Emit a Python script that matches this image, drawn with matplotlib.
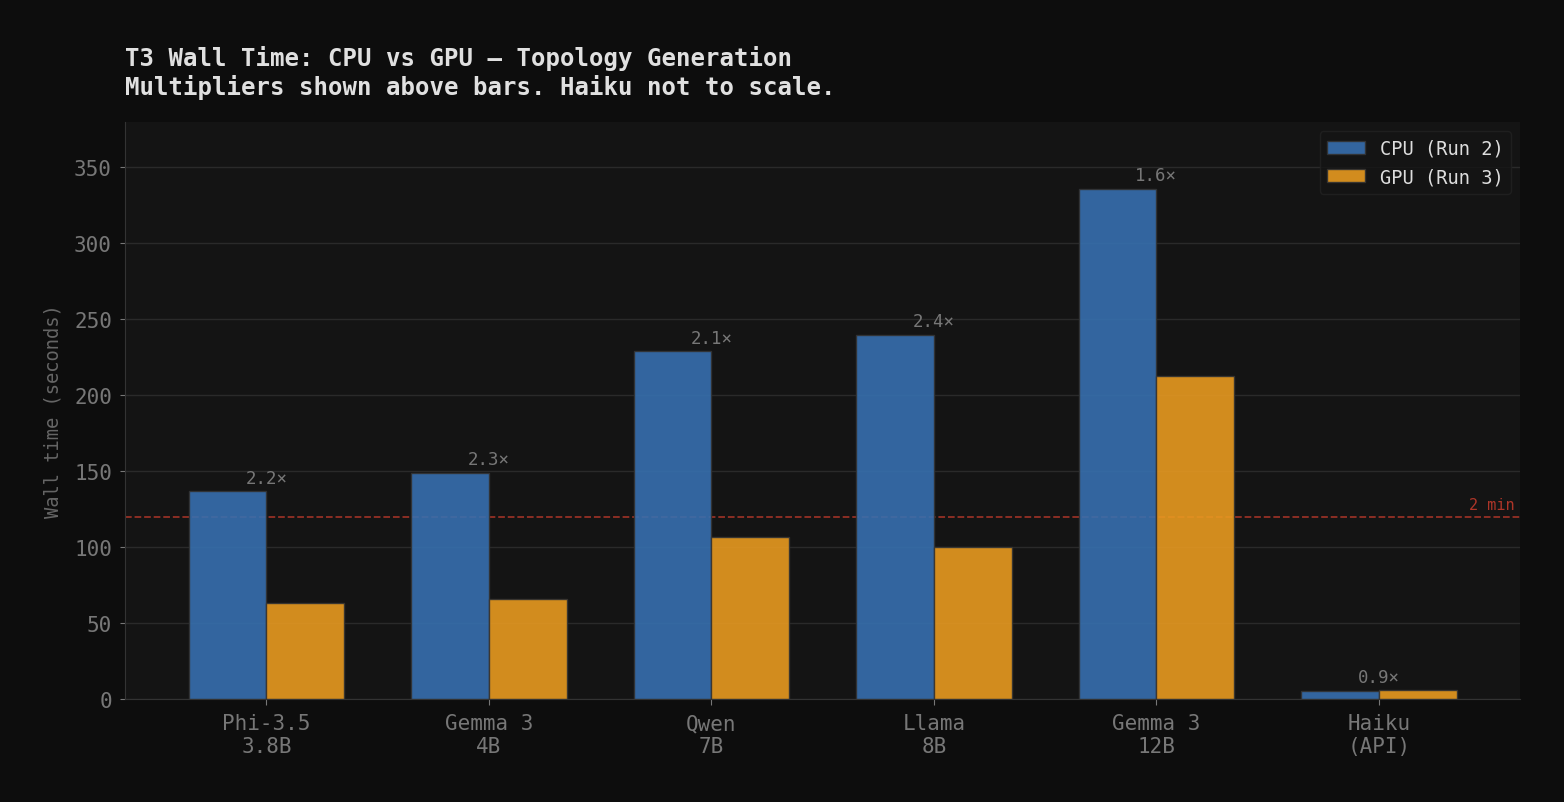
import matplotlib
matplotlib.use("Agg")
import matplotlib.pyplot as plt
import numpy as np

models = ["Phi-3.5\n3.8B", "Gemma 3\n4B", "Qwen\n7B", "Llama\n8B", "Gemma 3\n12B", "Haiku\n(API)"]
cpu_times = [137, 149, 229, 240, 336, 5.3]
gpu_times = [63, 66, 107, 100, 213, 5.9]
ref_line = 120

plt.rcParams["font.family"] = ["DejaVu Sans Mono", "DejaVu Sans"]

fig, ax = plt.subplots(figsize=(15.64, 8.03), dpi=100)
fig.patch.set_facecolor("#0d0d0d")
ax.set_facecolor("#141414")
fig.subplots_adjust(left=0.08, right=0.972, top=0.847, bottom=0.128)

x = np.arange(len(models))
w = 0.35
ax.bar(x - w/2, cpu_times, w, label="CPU (Run 2)", color="#376faf", alpha=0.9,
       edgecolor="#333333", linewidth=1, zorder=2)
ax.bar(x + w/2, gpu_times, w, label="GPU (Run 3)", color="#e89a20", alpha=0.9,
       edgecolor="#333333", linewidth=1, zorder=2)

for i, (c, g) in enumerate(zip(cpu_times, gpu_times)):
    ax.text(i, max(c, g) + 3, f"{c/g:.1f}×", ha="center", va="bottom",
            fontsize=12.5, color="#777777", zorder=3)

ax.axhline(ref_line, color="#c0392b", linestyle="--", linewidth=1.3, alpha=0.75, zorder=1)
ax.text(0.996, ref_line + 3, "2 min", transform=ax.get_yaxis_transform(),
        ha="right", va="bottom", fontsize=11, color="#c0392b", alpha=0.9)

ax.set_ylim(0, 380)
ax.set_xticks(x)
ax.set_xticklabels(models)
ax.tick_params(axis="both", colors="#777777", labelsize=15, pad=6)
ax.tick_params(axis="x", length=4)
ax.set_ylabel("Wall time (seconds)", color="#666666", fontsize=13.5, labelpad=8)
ax.grid(True, axis="y", color="#2a2a2a", linewidth=1, zorder=0)
ax.set_axisbelow(True)
for s in ["top", "right"]:
    ax.spines[s].set_visible(False)
for s in ["left", "bottom"]:
    ax.spines[s].set_color("#333333")

leg = ax.legend(loc="upper right", fontsize=13.5, facecolor="#141414",
                edgecolor="#222222", labelcolor="#dddddd")

ax.set_title("T3 Wall Time: CPU vs GPU — Topology Generation\n"
             "Multipliers shown above bars. Haiku not to scale.",
             loc="left", fontsize=17.3, fontweight="bold", color="#e0e0e0",
             pad=20, linespacing=1.22)

plt.savefig("out.png", dpi=100, facecolor=fig.get_facecolor())
